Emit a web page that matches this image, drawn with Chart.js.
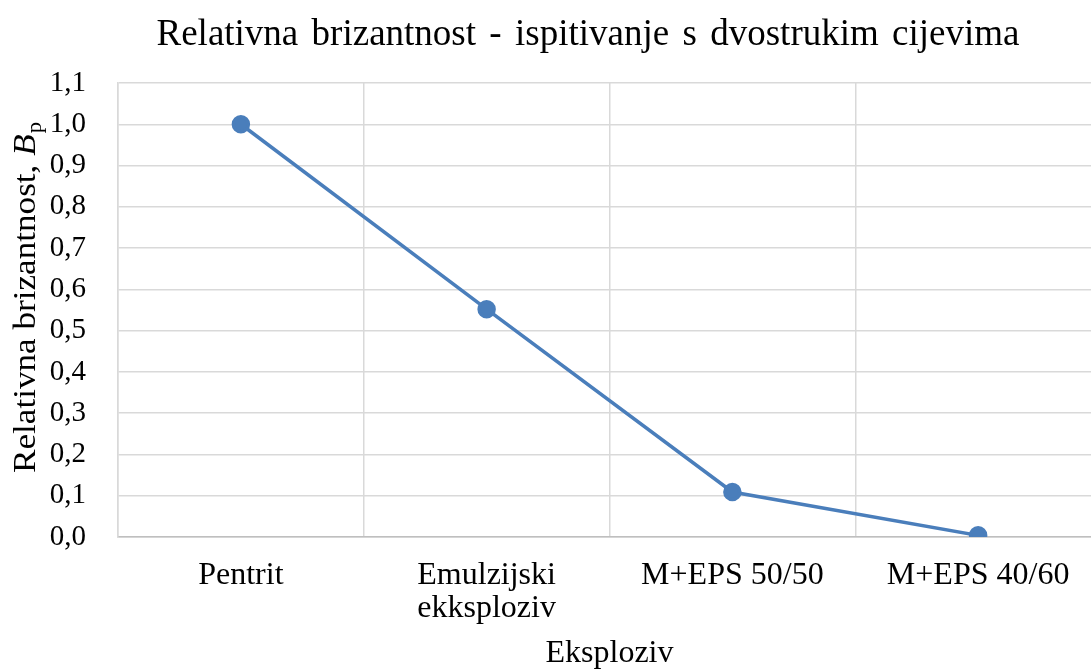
<!DOCTYPE html>
<html lang="hr">
<head>
<meta charset="UTF-8">
<title>Relativna brizantnost</title>
<script src="https://cdn.jsdelivr.net/npm/chart.js"></script>
<style>
  body { margin: 0; overflow: hidden; background: #fff; }
  #wrap { width: 1112px; height: 670px; }
</style>
</head>
<body>
<div id="wrap"><canvas id="grafico"></canvas></div>
<script>
const kategorije = [["Pentrit"], ["Emulzijski", "ekksploziv"], ["M+EPS 50/50"], ["M+EPS 40/60"]]
const brizantnost = [1.0, 0.552, 0.109, 0.004]
const yMin = 0, yMax = 1.1, yKorak = 0.1

const naslov = "Relativna brizantnost - ispitivanje s dvostrukim cijevima"
const naslovX = "Eksploziv"
const serif = "'Liberation Serif', 'Times New Roman', serif"
const plava = '#4a7ebb'

// naslov grafa (razmaci rastegnuti kao u Excelu) i naslov y osi s kurzivnim B i indeksom p
const tekstovi = {
  id: 'tekstovi',
  afterDraw(chart) {
    const c = chart.ctx
    c.save()
    c.fillStyle = '#000'
    c.textBaseline = 'alphabetic'
    c.textAlign = 'left'

    c.font = '37px ' + serif
    const rijeci = naslov.split(' ')
    const sirine = rijeci.map(r => c.measureText(r).width)
    const ukupno = 863
    const razmak = Math.max(9, (ukupno - sirine.reduce((a, b) => a + b, 0)) / (rijeci.length - 1))
    const stvarno = sirine.reduce((a, b) => a + b, 0) + razmak * (rijeci.length - 1)
    let x = 588 - stvarno / 2
    rijeci.forEach((r, i) => {
      c.fillText(r, x, 45)
      x += sirine[i] + razmak
    })

    c.translate(35, 298)
    c.rotate(-Math.PI / 2)
    const dio1 = "Relativna brizantnost, "
    c.font = '31px ' + serif
    const w1 = c.measureText(dio1).width
    c.font = 'italic 31px ' + serif
    const w2 = c.measureText("B").width
    c.font = '20px ' + serif
    const w3 = c.measureText("p").width
    const k = 350 / (w1 + w2 + w3)
    c.scale(k, 1)
    x = -(w1 + w2 + w3) / 2
    c.font = '31px ' + serif
    c.fillText(dio1, x, 0)
    x += w1
    c.font = 'italic 31px ' + serif
    c.fillText("B", x, 0)
    x += w2 + 1
    c.font = '20px ' + serif
    c.fillText("p", x, 6)
    c.restore()
  }
}

const ctx = document.getElementById('grafico')
new Chart(ctx, {
  type: 'line',
  data: {
    labels: kategorije,
    datasets: [{
      data: brizantnost,
      borderColor: plava,
      backgroundColor: plava,
      borderWidth: 3.5,
      pointRadius: 7.5,
      pointHoverRadius: 7.5,
      pointBackgroundColor: plava,
      pointBorderColor: plava,
      tension: 0
    }]
  },
  options: {
    responsive: true,
    maintainAspectRatio: false,
    animation: false,
    layout: { padding: { top: 83, left: 50, right: 0, bottom: 0 } },
    plugins: {
      legend: { display: false },
      tooltip: { enabled: false },
      title: { display: false }
    },
    scales: {
      x: {
        offset: true,
        grid: { offset: true, color: '#d9d9d9', lineWidth: 1.5, drawTicks: false },
        border: { color: '#bfbfbf', width: 1.5 },
        ticks: {
          color: '#000',
          font: { family: serif, size: 32, lineHeight: 1.03 },
          padding: 22,
          maxRotation: 0,
          autoSkip: false
        },
        title: {
          display: true,
          text: naslovX,
          color: '#000',
          font: { family: serif, size: 32, lineHeight: 1 },
          padding: { top: 0, bottom: 0 }
        },
        afterFit(s) { s.height = 133 }
      },
      y: {
        min: yMin,
        max: yMax,
        grid: { color: '#d9d9d9', lineWidth: 1.5, drawTicks: false },
        border: { color: '#d9d9d9', width: 1.5 },
        ticks: {
          stepSize: yKorak,
          color: '#000',
          font: { family: serif, size: 29 },
          padding: 32,
          callback: v => v.toFixed(1).replace('.', ',')
        },
        afterFit(s) { s.width = 68 }
      }
    }
  },
  plugins: [tekstovi]
})
</script>
</body>
</html>
